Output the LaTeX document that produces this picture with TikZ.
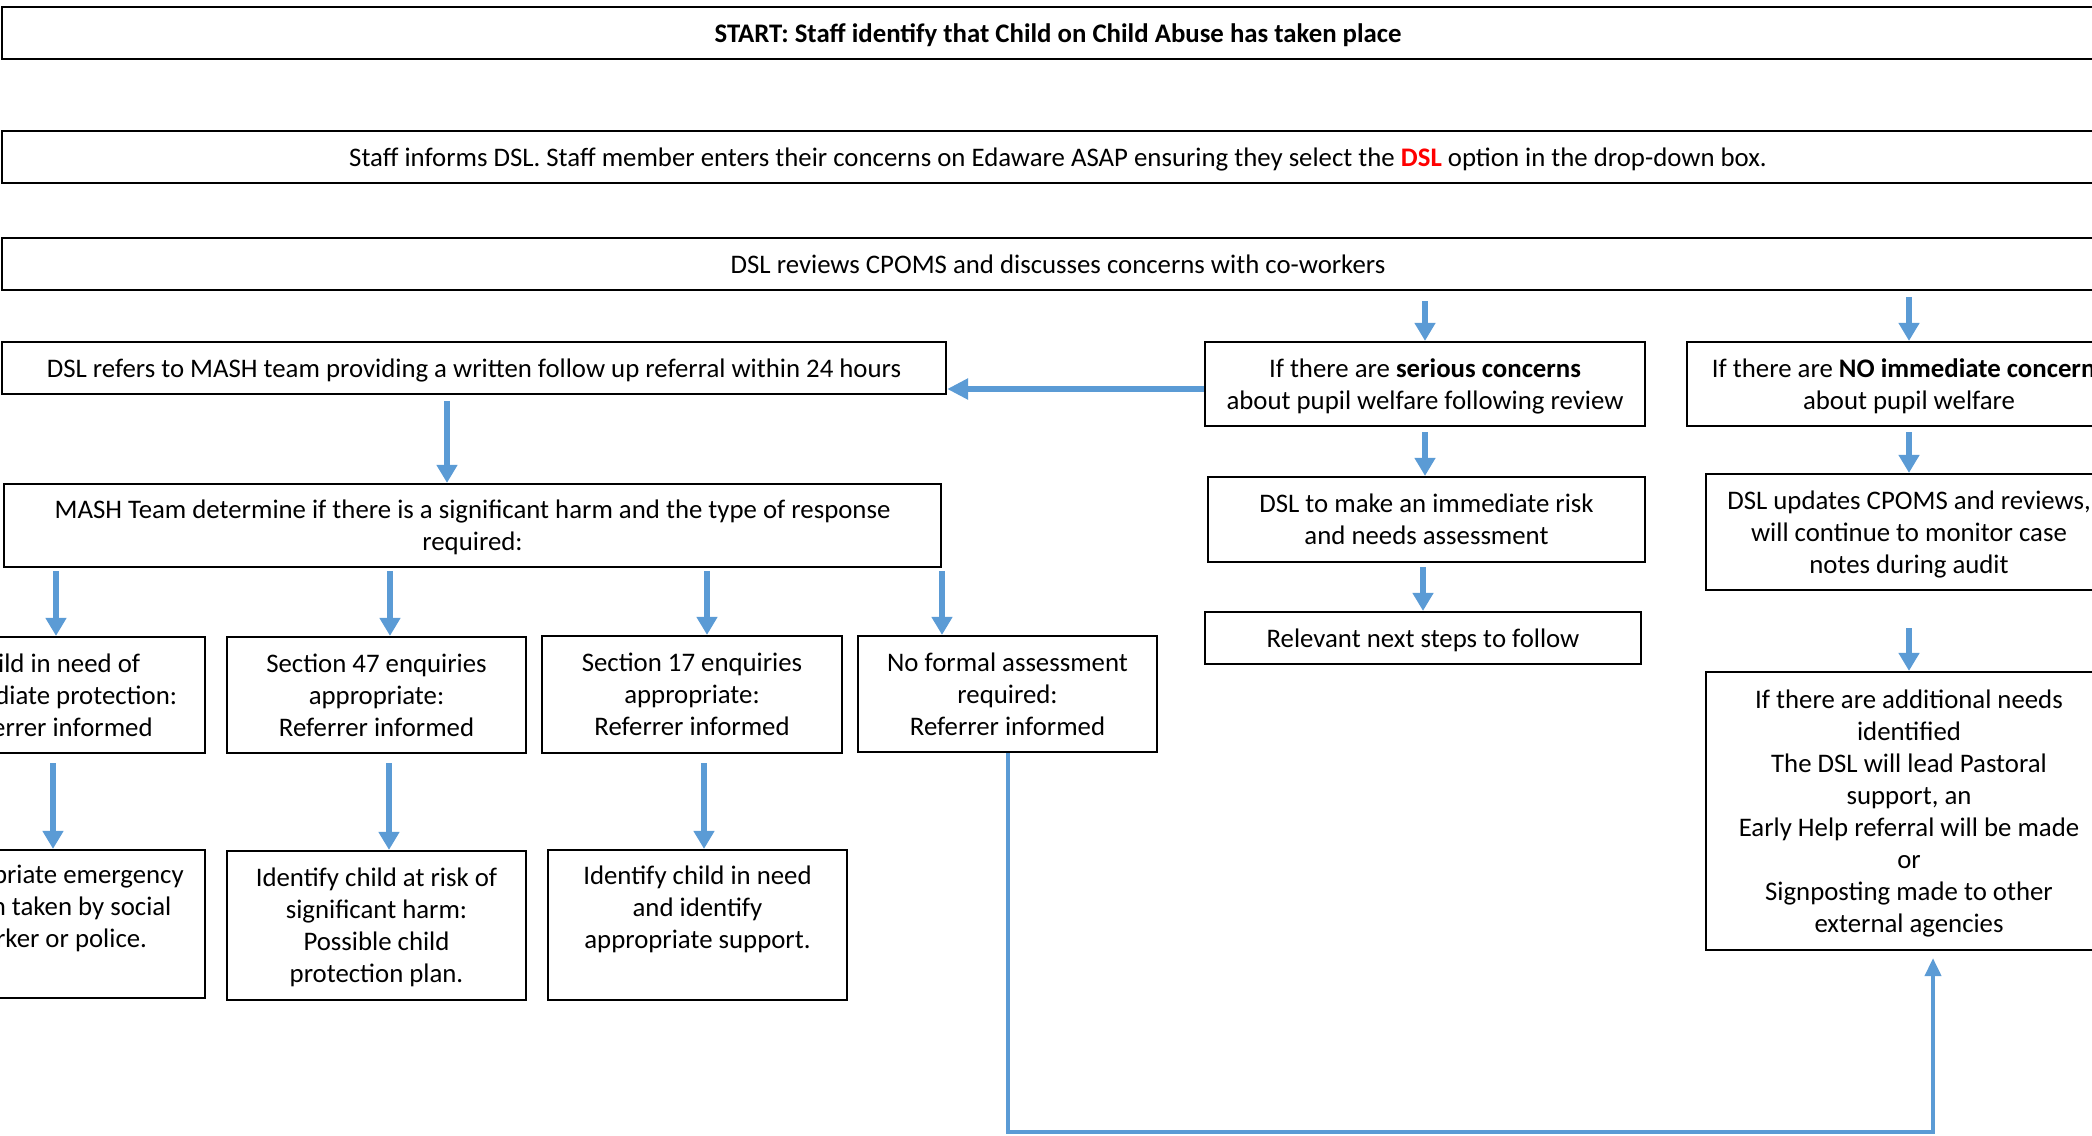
\documentclass[tikz,border=0pt]{standalone}
\usepackage{fontspec}
\setmainfont{Carlito}
\usetikzlibrary{arrows.meta}
\definecolor{arrowblue}{HTML}{5B9BD5}
\definecolor{dslred}{HTML}{FF0000}
\newcommand\tstr{\rule{0pt}{12.76pt}}
\newcommand\bstr{\rule[-3.6pt]{0pt}{3.6pt}}
\begin{document}
\begin{tikzpicture}[x=0.5pt,y=-0.5pt,
  box/.style={draw=black, line width=1.1pt, inner sep=0pt, align=center,
    font=\fontsize{13.4}{16}\selectfont},
  arr/.style={draw=arrowblue, line width=2.6pt, -{Triangle[width=10pt,length=9pt]}},
  arrthick/.style={draw=arrowblue, line width=3.3pt, -{Triangle[width=10pt,length=10.5pt]}},
  elbow/.style={draw=arrowblue, line width=2pt, -{Triangle[width=8pt,length=9pt]}}]
\useasboundingbox (0,0) rectangle (2092,1135);
\clip (0,0) rectangle (2092,1135);
\fill[white] (0,0) rectangle (2092,1135);

% top full-width boxes
\node[box, minimum width=1056pt, minimum height=26pt] (start) at (1058,33)
  {\tstr\textbf{START: Staff identify that Child on Child Abuse has taken place}\bstr};
\node[box, minimum width=1056pt, minimum height=26pt] (inform) at (1058,157)
  {\tstr Staff informs DSL. Staff member enters their concerns on Edaware ASAP ensuring they select the \textbf{\textcolor{dslred}{DSL}} option in the drop-down box.\bstr};
\node[box, minimum width=1056pt, minimum height=26pt] (review) at (1058,264)
  {\tstr DSL reviews CPOMS and discusses concerns with co-workers\bstr};

% right branch
\node[box, minimum width=220pt, minimum height=42pt] (serious) at (1425,384)
  {\tstr If there are \textbf{serious concerns}\\about pupil welfare following review\bstr};
\node[box, minimum width=222pt, minimum height=42pt] (noimm) at (1909,384)
  {\tstr If there are \textbf{NO immediate concerns}\\about pupil welfare\bstr};
\node[box, minimum width=218.5pt, minimum height=42.5pt] (risk) at (1426.5,519.5)
  {\tstr DSL to make an immediate risk\\and needs assessment\bstr};
\node[box, minimum width=218pt, minimum height=26pt] (next) at (1423,638)
  {\tstr Relevant next steps to follow\bstr};
\node[box, minimum width=203pt, minimum height=58pt] (updates) at (1909,532)
  {\tstr DSL updates CPOMS and reviews,\\will continue to monitor case\\notes during audit\bstr};
\node[box, minimum width=203pt, minimum height=139pt] (addl) at (1909,811)
  {\tstr If there are additional needs\\identified\\The DSL will lead Pastoral\\support, an\\Early Help referral will be made\\or\\Signposting made to other\\external agencies\bstr};

% left branch
\node[box, minimum width=472pt, minimum height=26pt] (refer) at (474,368)
  {\tstr DSL refers to MASH team providing a written follow up referral within 24 hours\bstr};
\node[box, minimum width=468.5pt, minimum height=41.5pt] (mash) at (472.5,525.5)
  {\tstr MASH Team determine if there is a significant harm and the type of response\\required:\bstr};
\node[box, minimum width=150pt, minimum height=58pt] (cA) at (55,695)
  {\tstr Child in need of\\immediate protection:\\Referrer informed\bstr};
\node[box, minimum width=149.5pt, minimum height=58pt] (cB) at (376.5,695)
  {\tstr Section 47 enquiries\\appropriate:\\Referrer informed\bstr};
\node[box, minimum width=150pt, minimum height=58.5pt] (cC) at (692,694.5)
  {\tstr Section 17 enquiries\\appropriate:\\Referrer informed\bstr};
\node[box, minimum width=149.5pt, minimum height=58pt] (cD) at (1007.5,694)
  {\tstr No formal assessment\\required:\\Referrer informed\bstr};
\node[box, minimum width=150pt, minimum height=74pt] (cA2) at (55,924)
  {\tstr Appropriate emergency\\action taken by social\\worker or police.\\\strut\bstr};
\node[box, minimum width=149.5pt, minimum height=74.5pt] (cB2) at (376.5,925.5)
  {\tstr Identify child at risk of\\significant harm:\\Possible child\\protection plan.\bstr};
\node[box, minimum width=149.5pt, minimum height=75pt] (cC2) at (697.5,925)
  {\tstr Identify child in need\\and identify\\appropriate support.\\\strut\bstr};

% connectors right
\draw[arr] (serious.north |- review.south) ++(0,10) -- (serious.north);
\draw[arr] (noimm.north |- review.south) ++(0,6) -- (noimm.north);
\draw[arr] (serious.south) ++(0,5) -- (risk.north -| serious.south);
\draw[arr] (risk.south -| next.north) ++(0,4) -- (next.north);
\draw[arr] (noimm.south) ++(0,5) -- (updates.north);
\draw[arr] (updates.south) ++(0,37) -- (addl.north);
\draw[arrthick] (serious.west |- 0,389) -- (refer.east |- 0,389);

% connectors left
\draw[arr] (refer.south -| 447,0) ++(0,6) -- (mash.north -| 447,0);
\draw[arr] (mash.south -| 56,0) ++(0,3) -- (cA.north -| 56,0);
\draw[arr] (mash.south -| 390,0) ++(0,3) -- (cB.north -| 390,0);
\draw[arr] (mash.south -| 707,0) ++(0,3) -- (cC.north -| 707,0);
\draw[arr] (mash.south -| 942,0) ++(0,3) -- (cD.north -| 942,0);
\draw[arr] (cA.south -| 53,0) ++(0,9) -- (cA2.north -| 53,0);
\draw[arr] (cB.south -| 389,0) ++(0,9) -- (cB2.north -| 389,0);
\draw[arr] (cC.south -| 704,0) ++(0,9) -- (cC2.north -| 704,0);

% elbow from no formal assessment to additional needs
\coordinate (e1) at (1933,1132);
\draw[elbow, shorten >=3.5pt] (cD.south) |- (e1) -- (e1 |- addl.south);
\end{tikzpicture}
\end{document}
